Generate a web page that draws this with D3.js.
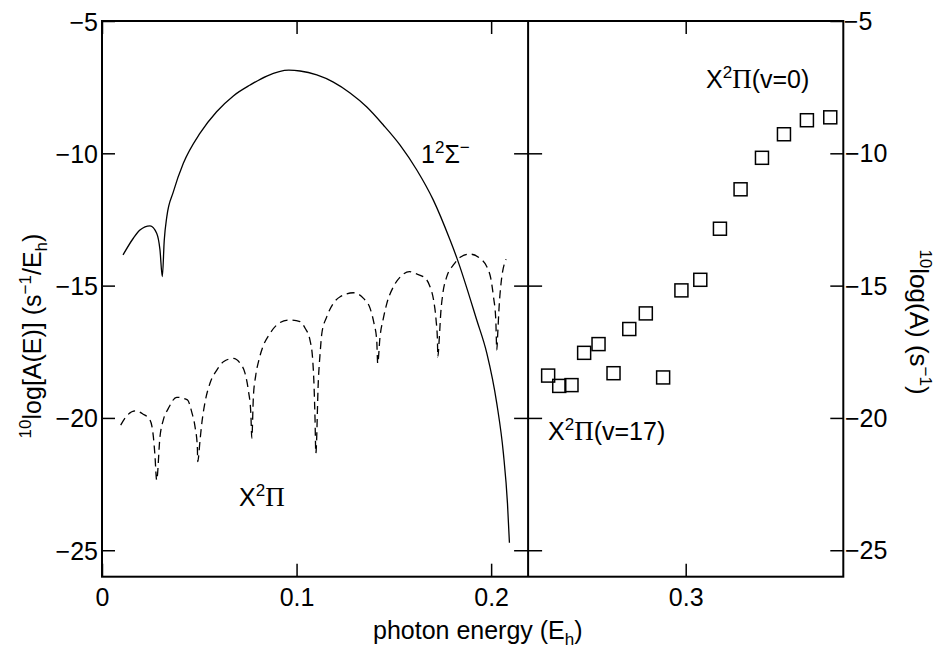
<!DOCTYPE html>
<html>
<head>
<meta charset="utf-8">
<script src="https://cdn.jsdelivr.net/npm/d3@7"></script>
<style>
  body { margin: 0; background: #fff; }
  text { font-family: 'Liberation Sans', Arial, sans-serif; fill: #000; }
  .serif { font-family: 'Liberation Serif', 'Times New Roman', serif; }
</style>
</head>
<body>
<div id="chart"></div>
<script>
// tick values
const energyTicks = [0, 0.1, 0.2, 0.3];
const logTicks = [-25, -20, -15, -10, -5];

// 1^2Sigma^- spectrum (solid)
const sigmaE = [0.0108, 0.0161, 0.0195, 0.0247, 0.0281, 0.0298, 0.031, 0.032, 0.0333, 0.0367,
  0.0418, 0.0504, 0.0589, 0.0675, 0.0761, 0.0847, 0.096, 0.1018, 0.1104, 0.1189, 0.1275,
  0.1361, 0.1446, 0.1532, 0.1618, 0.1703, 0.1789, 0.1824, 0.1926, 0.1978, 0.2029, 0.2063,
  0.2084, 0.2094];
const sigmaLogA = [-13.84, -13.21, -12.90, -12.74, -13.02, -13.65, -14.66, -13.28, -12.40, -11.45,
  -10.38, -9.24, -8.43, -7.83, -7.42, -7.08, -6.86, -6.89, -7.04, -7.31, -7.72,
  -8.25, -8.93, -9.69, -10.63, -11.77, -13.28, -13.96, -16.30, -17.56, -19.45, -21.34,
  -23.23, -24.72];

// X^2Pi spectrum (dashed)
const piE = [0.0096, 0.0130, 0.0170, 0.0210, 0.0247, 0.0264, 0.0272, 0.0281,
  0.0298, 0.0315, 0.0341, 0.0384, 0.0439, 0.0461, 0.0478, 0.0490, 0.0492,
  0.0504, 0.0513, 0.0530, 0.0555, 0.0590, 0.0624, 0.0675, 0.0710, 0.0735, 0.0752, 0.0765, 0.0770,
  0.0778, 0.0790, 0.0805, 0.0825, 0.0864, 0.0898, 0.0958, 0.1018, 0.1044, 0.1069, 0.1083, 0.1090, 0.1095, 0.1099,
  0.1112, 0.1121, 0.1130, 0.1155, 0.1189, 0.1224, 0.1292, 0.1344, 0.1378, 0.1398, 0.1412, 0.1417,
  0.1429, 0.1446, 0.1464, 0.1498, 0.1540, 0.1580, 0.1609, 0.1661, 0.1686, 0.1704, 0.1717, 0.1724, 0.1726,
  0.1734, 0.1741, 0.1752, 0.1772, 0.1806, 0.1841, 0.1892, 0.1943, 0.1978, 0.1998, 0.2012, 0.2024, 0.2029,
  0.2034, 0.2041, 0.2051, 0.2077];
const piLogA = [-20.27, -19.90, -19.73, -19.85, -20.08, -20.71, -21.40, -22.35,
  -20.71, -20.08, -19.64, -19.22, -19.32, -19.77, -20.33, -21.09, -21.65,
  -20.83, -20.20, -19.39, -18.69, -18.19, -17.88, -17.75, -17.94, -18.31, -18.95, -19.83, -20.77,
  -19.20, -18.40, -17.85, -17.35, -16.80, -16.49, -16.30, -16.36, -16.61, -17.06, -17.81, -18.82, -20.08, -21.34,
  -18.57, -17.56, -16.80, -16.18, -15.67, -15.42, -15.27, -15.48, -15.86, -16.43, -17.06, -17.94,
  -16.93, -16.24, -15.67, -15.04, -14.62, -14.47, -14.54, -14.72, -15.04, -15.54, -16.30, -17.06, -17.69,
  -16.93, -16.05, -15.29, -14.66, -14.22, -13.93, -13.81, -13.97, -14.29, -14.72, -15.42, -16.30, -17.43,
  -16.80, -15.80, -14.91, -14.00];

// X^2Pi(v) levels (squares, right panel)
const levelE = [0.2293, 0.2350, 0.2413, 0.2478, 0.2552, 0.2629, 0.2710, 0.2795, 0.2884,
  0.2978, 0.3075, 0.3176, 0.3282, 0.3392, 0.3505, 0.3623, 0.3743];
const levelLogA = [-18.40, -18.79, -18.76, -17.54, -17.21, -18.31, -16.64, -16.05, -18.47,
  -15.18, -14.78, -12.85, -11.36, -10.17, -9.28, -8.75, -8.64];

const dims = {
  width: 939,
  height: 649,
  margin: { top: 21, right: 95.7, bottom: 72.3, left: 102 },
};
dims.boundedWidth = dims.width - dims.margin.left - dims.margin.right;
dims.boundedHeight = dims.height - dims.margin.top - dims.margin.bottom;
const splitE = 0.219;

const xScale = d3.scaleLinear().domain([0, 0.381]).range([0, dims.boundedWidth]);
const yScale = d3.scaleLinear().domain([-26, -5]).range([dims.boundedHeight, 0]);

const svg = d3.select('#chart').append('svg')
  .attr('width', dims.width)
  .attr('height', dims.height);

const bounds = svg.append('g')
  .attr('transform', `translate(${dims.margin.left},${dims.margin.top})`);

const fmtY = (d) => '\u2212' + Math.abs(d);

// axes with inward ticks
const styleAxis = (g) => {
  g.select('.domain').remove();
  g.selectAll('line').attr('stroke', '#000').attr('stroke-width', 1.5);
  g.selectAll('text').style('font-size', '25px').attr('fill', '#000');
};

bounds.append('g')
  .call(d3.axisLeft(yScale).tickValues(logTicks).tickSizeInner(-13).tickSizeOuter(0)
    .tickPadding(4).tickFormat(fmtY))
  .call(styleAxis)
  .call((g) => g.selectAll('text').attr('dy', null).attr('y', 9));

// right axis: ticks from the axis, labels placed beside them
const rightAxis = bounds.append('g')
  .attr('transform', `translate(${dims.boundedWidth},0)`)
  .call(d3.axisRight(yScale).tickValues(logTicks).tickSizeInner(-13).tickSizeOuter(0)
    .tickFormat(''))
  .call(styleAxis);
rightAxis.selectAll('.rlabel')
  .data(logTicks)
  .join('text')
  .attr('class', 'rlabel')
  .attr('x', (d) => (d <= -10 ? 44 : 29))
  .attr('y', (d) => yScale(d) + 9)
  .attr('text-anchor', 'end')
  .style('font-size', '25px')
  .text(fmtY);

bounds.append('g')
  .attr('transform', `translate(0,${dims.boundedHeight})`)
  .call(d3.axisBottom(xScale).tickValues(energyTicks).tickSizeInner(-13).tickSizeOuter(0)
    .tickPadding(12).tickFormat(d3.format('')))
  .call(styleAxis);

bounds.append('g')
  .call(d3.axisTop(xScale).tickValues(energyTicks).tickSizeInner(-13).tickSizeOuter(0)
    .tickFormat(''))
  .call(styleAxis);

// divider between the panels, ticks on both sides
const divider = bounds.append('g').attr('transform', `translate(${xScale(splitE)},0)`);
divider.append('g')
  .call(d3.axisLeft(yScale).tickValues(logTicks.slice(0, 4)).tickSize(14).tickFormat(''))
  .call(styleAxis);
divider.append('g')
  .call(d3.axisRight(yScale).tickValues(logTicks.slice(0, 4)).tickSize(14).tickFormat(''))
  .call(styleAxis);
divider.append('line')
  .attr('y1', 0).attr('y2', dims.boundedHeight)
  .attr('stroke', '#000').attr('stroke-width', 2);

// frame
bounds.append('rect')
  .attr('width', dims.boundedWidth)
  .attr('height', dims.boundedHeight)
  .attr('fill', 'none')
  .attr('stroke', '#000')
  .attr('stroke-width', 2);

// curves
const line = d3.line()
  .x((d) => xScale(d[0]))
  .y((d) => yScale(d[1]))
  .curve(d3.curveMonotoneX);

bounds.append('path')
  .datum(sigmaE.map((e, i) => [e, sigmaLogA[i]]))
  .attr('d', line)
  .attr('fill', 'none')
  .attr('stroke', '#000')
  .attr('stroke-width', 1.3);

bounds.append('path')
  .datum(piE.map((e, i) => [e, piLogA[i]]))
  .attr('d', line)
  .attr('fill', 'none')
  .attr('stroke', '#000')
  .attr('stroke-width', 1.3)
  .attr('stroke-dasharray', '8,5');

const sq = 13;
bounds.selectAll('.level')
  .data(levelE.map((e, i) => [e, levelLogA[i]]))
  .join('rect')
  .attr('class', 'level')
  .attr('x', (d) => xScale(d[0]) - sq / 2)
  .attr('y', (d) => yScale(d[1]) - sq / 2)
  .attr('width', sq)
  .attr('height', sq)
  .attr('fill', 'none')
  .attr('stroke', '#000')
  .attr('stroke-width', 1.5);

// labels
function addPiLabel(x, y, suffix) {
  const t = svg.append('text').attr('x', x).attr('y', y).style('font-size', '25px');
  t.append('tspan').text('X');
  t.append('tspan').text('2').style('font-size', '17px').attr('dy', -10);
  t.append('tspan').text('Π').attr('class', 'serif').style('font-size', '27px').attr('dy', 10);
  if (suffix) t.append('tspan').text(suffix);
}

const sig = svg.append('text').attr('x', 421).attr('y', 163).style('font-size', '25px');
sig.append('tspan').text('1');
sig.append('tspan').text('2').style('font-size', '17px').attr('dy', -10);
sig.append('tspan').text('Σ').attr('dy', 10);
sig.append('tspan').text('−').style('font-size', '17px').attr('dy', -10);

addPiLabel(239, 506, null);
addPiLabel(706, 88, '(v=0)');
addPiLabel(548, 440, '(v=17)');

// x axis title
const xt = svg.append('text').attr('x', 373).attr('y', 639).style('font-size', '25px');
xt.append('tspan').text('photon energy (E');
xt.append('tspan').text('h').style('font-size', '17px').attr('dy', 6);
xt.append('tspan').text(')').attr('dy', -6);

// left y title
const yl = svg.append('text')
  .attr('transform', 'translate(41,336) rotate(-90)')
  .attr('text-anchor', 'middle')
  .style('font-size', '25px');
yl.append('tspan').text('10').style('font-size', '17px').attr('dy', -10);
yl.append('tspan').text('log[A(E)] (s').attr('dy', 10);
yl.append('tspan').text('−1').style('font-size', '17px').attr('dy', -10);
yl.append('tspan').text('/E').attr('dy', 10);
yl.append('tspan').text('h').style('font-size', '17px').attr('dy', 6);
yl.append('tspan').text(')').attr('dy', -6);

// right y title
const yr = svg.append('text')
  .attr('transform', 'translate(910,322) rotate(90)')
  .attr('text-anchor', 'middle')
  .style('font-size', '26px');
yr.append('tspan').text('10').style('font-size', '17px').attr('dy', -10);
yr.append('tspan').text('log(A) (s').attr('dy', 10);
yr.append('tspan').text('−1').style('font-size', '17px').attr('dy', -10);
yr.append('tspan').text(')').attr('dy', 10);
</script>
</body>
</html>
